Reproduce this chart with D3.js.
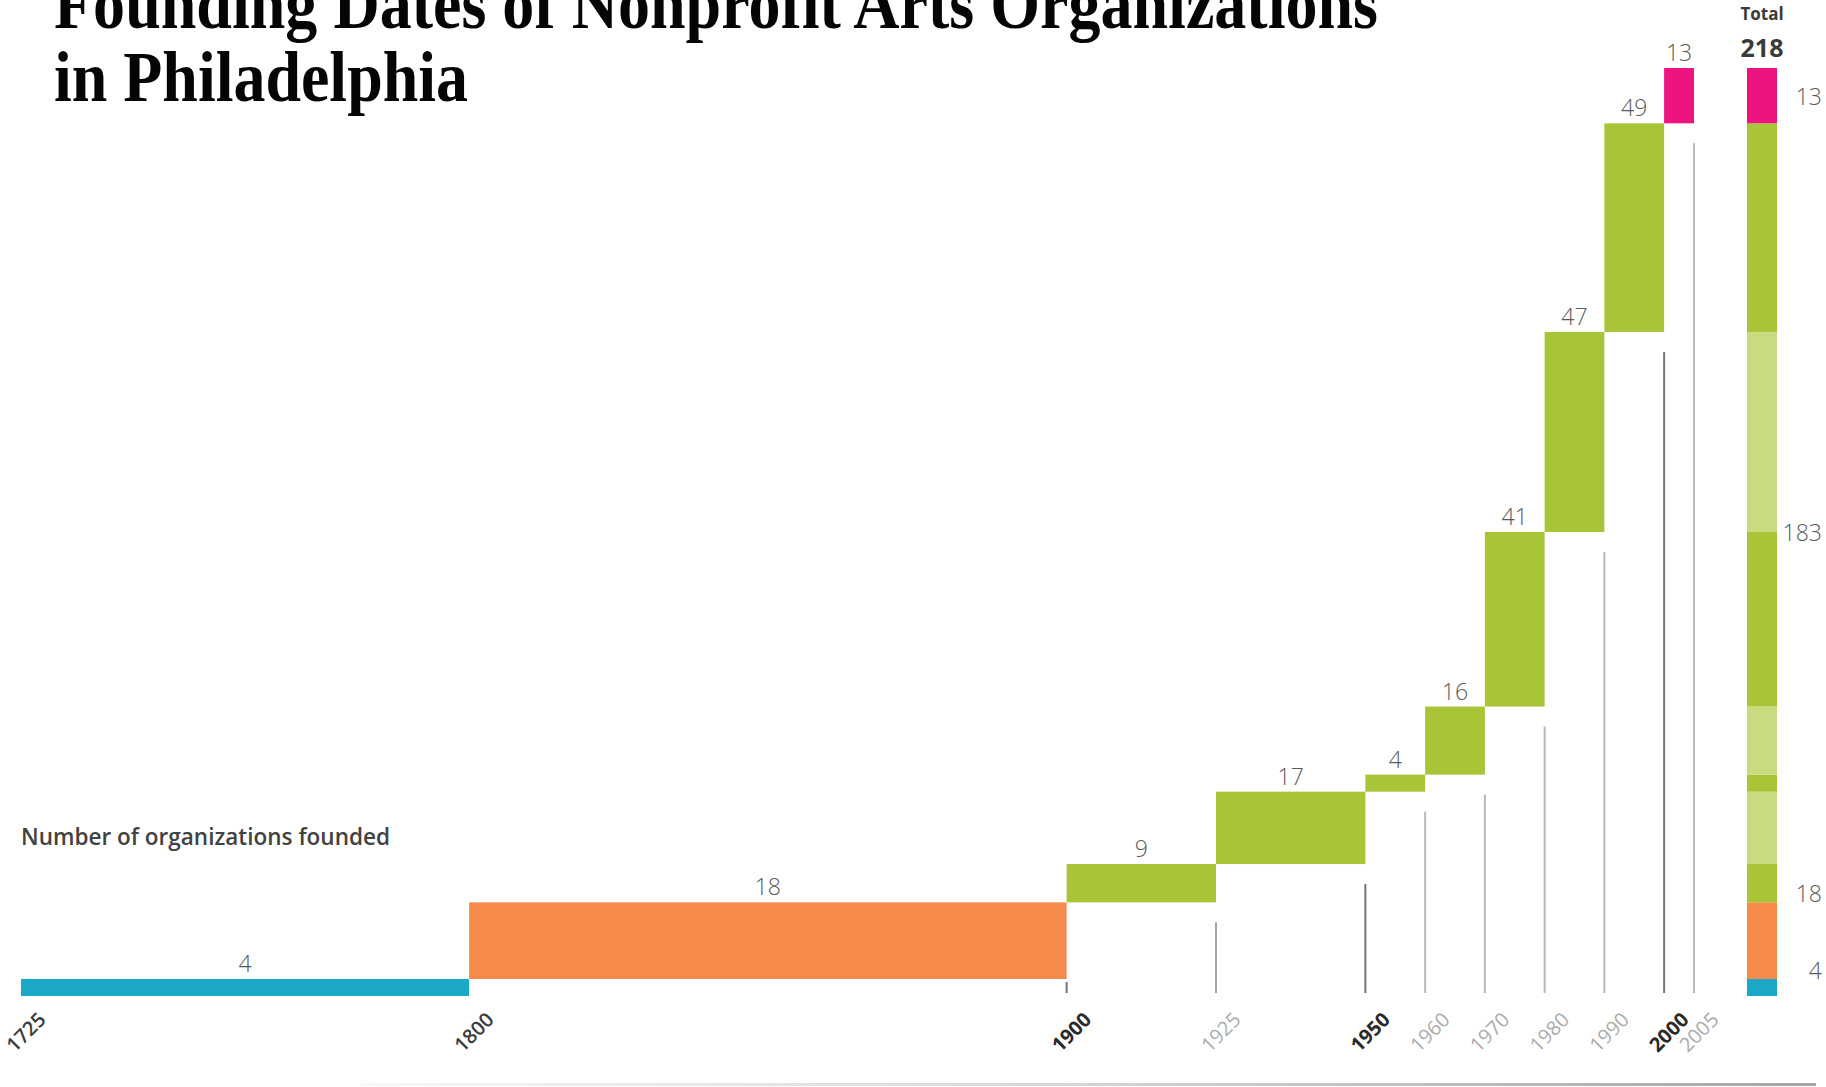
<!DOCTYPE html>
<html>
<head>
<meta charset="utf-8">
<script src="https://cdn.jsdelivr.net/npm/d3@7/dist/d3.min.js"></script>
<style>
  html, body { margin: 0; padding: 0; background: #fff; }
  svg { display: block; }
</style>
</head>
<body>
<svg id="chart" width="1826" height="1087"></svg>
<script>
// Period boundaries (years) and organizations founded in each period
const years = [1725, 1800, 1900, 1925, 1950, 1960, 1970, 1980, 1990, 2000, 2005];
const founded = [4, 18, 9, 17, 4, 16, 41, 47, 49, 13];
// Era each period belongs to (drives colour and the Total column)
const periodEra = ["early", "c19", "c20", "c20", "c20", "c20", "c20", "c20", "c20", "c21"];
const eraOrder = ["early", "c19", "c20", "c21"];
const eraColor = { early: "#1aa8c6", c19: "#f58a4b", c20: "#a8c437", c21: "#ec1480" };
const c20Alt = "#c8db7e";
// Axis tick labels and their emphasis
const tickYears = [1725, 1800, 1900, 1925, 1950, 1960, 1970, 1980, 1990, 2000, 2005];
const strongYears = [1900, 1950, 2000];
const mediumYears = [1725, 1800];

const svg = d3.select("#chart");
const total = d3.sum(founded);
const cumBefore = founded.map((d, i) => d3.sum(founded.slice(0, i)));

const x = d3.scaleLinear().domain([1725, 2005]).range([21, 1694]);
const y = d3.scaleLinear().domain([0, total]).range([996, 68]);
const baseY = 993;

// Title
const title = svg.append("g")
  .attr("font-family", "'Liberation Serif', 'DejaVu Serif', serif")
  .attr("font-weight", 700)
  .attr("font-size", 71)
  .attr("fill", "#050505");
title.append("text").attr("x", 54).attr("y", 28)
  .attr("textLength", 1324).attr("lengthAdjust", "spacingAndGlyphs")
  .text("Founding Dates of Nonprofit Arts Organizations");
title.append("text").attr("x", 54).attr("y", 101)
  .attr("textLength", 414).attr("lengthAdjust", "spacingAndGlyphs")
  .text("in Philadelphia");

// Series caption
svg.append("text")
  .attr("x", 21).attr("y", 845)
  .attr("font-family", "'Open Sans', 'Noto Sans', sans-serif")
  .attr("font-weight", 600)
  .attr("font-size", 23)
  .attr("fill", "#424242")
  .attr("textLength", 369).attr("lengthAdjust", "spacingAndGlyphs")
  .text("Number of organizations founded");

// Period data
const periods = founded.map((v, i) => ({
  start: years[i], end: years[i + 1], value: v,
  lo: cumBefore[i], hi: cumBefore[i] + v, era: periodEra[i]
}));

// Drop lines at period ends
const lineColor = yr => strongYears.includes(yr) ? "#747474" : (yr === 1925 ? "#a4a4a4" : "#b9b9b9");
svg.append("g").selectAll("line")
  .data(periods.filter((p, i) => i >= 1))
  .join("line")
  .attr("x1", p => x(p.end)).attr("x2", p => x(p.end))
  .attr("y1", p => Math.min(y(p.lo) + 20, baseY - 11))
  .attr("y2", baseY)
  .attr("stroke", p => lineColor(p.end))
  .attr("stroke-width", 2);

// Waterfall bars
svg.append("g").selectAll("rect")
  .data(periods)
  .join("rect")
  .attr("x", p => x(p.start))
  .attr("width", p => x(p.end) - x(p.start))
  .attr("y", p => y(p.hi))
  .attr("height", p => y(p.lo) - y(p.hi))
  .attr("fill", p => eraColor[p.era]);

// Value labels above bars
svg.append("g")
  .attr("font-family", "'Open Sans', 'Noto Sans', sans-serif")
  .attr("font-weight", 300)
  .attr("font-size", 23)
  .attr("fill", "#5a5a5a")
  .attr("text-anchor", "middle")
  .selectAll("text")
  .data(periods)
  .join("text")
  .attr("x", p => x((p.start + p.end) / 2))
  .attr("y", p => y(p.hi) - 7)
  .text(p => p.value);

// Axis labels (rotated)
svg.append("g")
  .attr("font-family", "'Open Sans', 'Noto Sans', sans-serif")
  .attr("font-size", 20)
  .attr("text-anchor", "end")
  .selectAll("text")
  .data(tickYears)
  .join("text")
  .attr("transform", yr => `translate(${x(yr) + 26},${1021}) rotate(-45)`)
  .attr("font-weight", yr => strongYears.includes(yr) ? 700 : (mediumYears.includes(yr) ? 600 : 400))
  .attr("fill", yr => strongYears.includes(yr) ? "#2a2a2a" : (mediumYears.includes(yr) ? "#3c3c3c" : "#ababab"))
  .text(yr => yr);

// Total column: stacked segments, alternating shade within the 20th century
const totalX = x(2005) + 53, totalW = 30;
let c20Count = 0;
const segs = periods.map(p => {
  let fill = eraColor[p.era];
  if (p.era === "c20") { fill = (c20Count % 2 === 0) ? eraColor.c20 : c20Alt; c20Count++; }
  return { lo: p.lo, hi: p.hi, fill };
});
svg.append("g").selectAll("rect")
  .data(segs)
  .join("rect")
  .attr("x", totalX).attr("width", totalW)
  .attr("y", s => y(s.hi))
  .attr("height", s => y(s.lo) - y(s.hi))
  .attr("fill", s => s.fill);

const tot = svg.append("g")
  .attr("font-family", "'Open Sans', 'Noto Sans', sans-serif")
  .attr("text-anchor", "middle")
  .attr("fill", "#3a3a3a");
tot.append("text").attr("x", totalX + totalW / 2).attr("y", 20)
  .attr("font-weight", 700).attr("font-size", 17).text("Total");
tot.append("text").attr("x", totalX + totalW / 2).attr("y", 57)
  .attr("font-weight", 700).attr("font-size", 25).text(total);

// Era sums beside the Total column
const eraSums = eraOrder.map(e => {
  const ps = periods.filter(p => p.era === e);
  return { era: e, value: d3.sum(ps, p => p.value), lo: d3.min(ps, p => p.lo), hi: d3.max(ps, p => p.hi) };
});
const eraLabelY = s => {
  if (s.era === "c21") return y((s.lo + s.hi) / 2);
  if (s.era === "c20") return y(total / 2);
  return y(s.hi) - 9;
};
svg.append("g")
  .attr("font-family", "'Open Sans', 'Noto Sans', sans-serif")
  .attr("font-weight", 300)
  .attr("font-size", 23)
  .attr("fill", "#5a5a5a")
  .attr("text-anchor", "end")
  .attr("dominant-baseline", "central")
  .selectAll("text")
  .data(eraSums)
  .join("text")
  .attr("x", 1822)
  .attr("y", eraLabelY)
  .text(s => s.value);

// Page edge shading along the bottom
const grad = svg.append("defs").append("linearGradient").attr("id", "edge")
  .attr("x1", "0%").attr("x2", "100%");
grad.append("stop").attr("offset", "0%").attr("stop-color", "#000").attr("stop-opacity", 0.03);
grad.append("stop").attr("offset", "45%").attr("stop-color", "#000").attr("stop-opacity", 0.15);
grad.append("stop").attr("offset", "100%").attr("stop-color", "#000").attr("stop-opacity", 0.35);
svg.append("rect").attr("x", 361).attr("y", 1083).attr("width", 1455).attr("height", 3)
  .attr("fill", "url(#edge)");
</script>
</body>
</html>
